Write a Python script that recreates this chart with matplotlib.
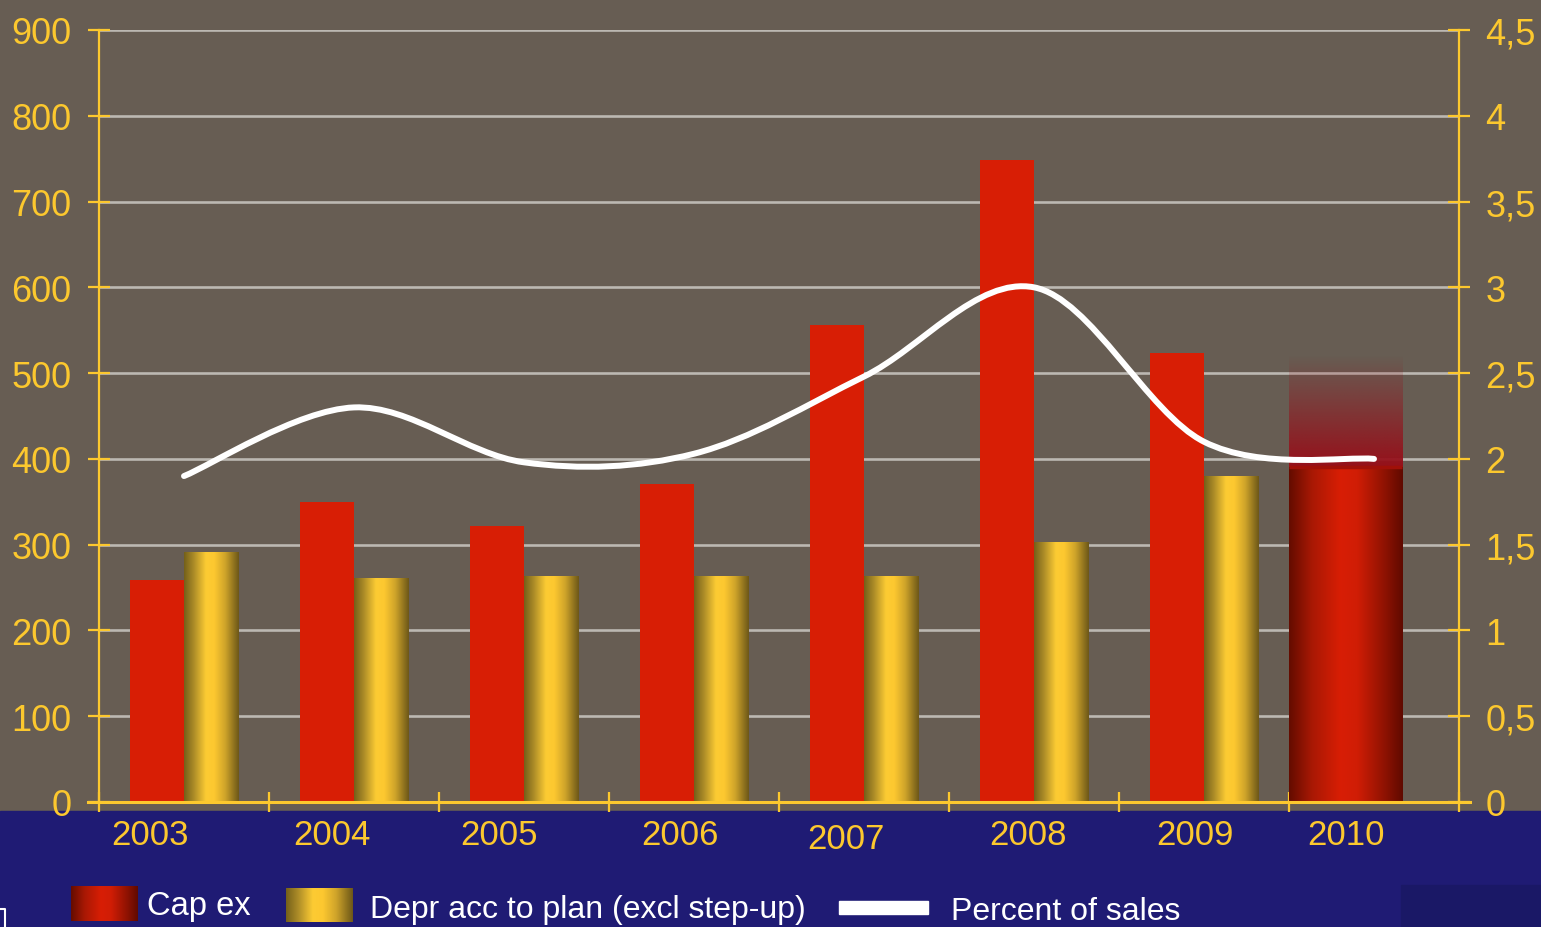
import numpy as np
import matplotlib
matplotlib.use('Agg')
import matplotlib.pyplot as plt
from matplotlib.path import Path
from matplotlib.patches import PathPatch, Rectangle
from matplotlib.colors import LinearSegmentedColormap, to_rgb
from matplotlib.lines import Line2D
import matplotlib.transforms as mtransforms

# ---------------- data ----------------
years = ['2003', '2004', '2005', '2006', '2007', '2008', '2009', '2010']
capex = [259, 350, 322, 371, 556, 748, 524, 390]
depr = [291, 260, 263, 263, 263, 303, 380]          # 2003-2009
pct_sales = [1.90, 2.30, 1.98, 2.03, 2.48, 3.00, 2.10, 2.00]
capex_2010_range_top = 520
left_ticks = [0, 100, 200, 300, 400, 500, 600, 700, 800, 900]
right_ticks = [0, 0.5, 1, 1.5, 2, 2.5, 3, 3.5, 4, 4.5]
right_tick_labels = ['0', '0,5', '1', '1,5', '2', '2,5', '3', '3,5', '4', '4,5']
legend_labels = ['Cap ex', 'Depr acc to plan (excl step-up)', 'Percent of sales']

# ---------------- style ----------------
GRAY = '#675d53'
NAVY = '#1f1b74'
NAVY_DARK = '#1a1866'
GOLD = '#fcc82e'
GRID = '#bcb8b2'
RED = '#d81e05'
plt.rcParams['font.family'] = ['Liberation Sans', 'DejaVu Sans']

gold_cmap = LinearSegmentedColormap.from_list('gold', [
    (0.0, '#74601a'), (0.18, '#ac8c28'), (0.40, '#fccb33'), (0.55, '#fdc830'),
    (0.75, '#cfa42a'), (1.0, '#6c5718')])
red_cmap = LinearSegmentedColormap.from_list('redg', [
    (0.0, '#640c00'), (0.2, '#a81804'), (0.45, '#d81e05'), (0.6, '#d01d05'),
    (0.85, '#8c1202'), (1.0, '#600a00')])

W, H = 1541, 928
fig = plt.figure(figsize=(W / 100, H / 100), dpi=100, facecolor=GRAY)


def fx(px):
    return px / W


def fy(py):
    return 1 - py / H


# navy band and decorations
fig.patches.append(Rectangle((0, 0), 1, fy(812), transform=fig.transFigure,
                             color=NAVY, zorder=-1))
fig.patches.append(Rectangle((fx(1401), 0), 1 - fx(1401), fy(886), transform=fig.transFigure,
                             color=NAVY_DARK, zorder=-0.9))
fig.lines.append(Line2D([fx(0), fx(5), fx(5)], [fy(910), fy(910), fy(928)],
                        transform=fig.transFigure, color='white', lw=1.5))

ax = fig.add_axes([fx(99), fy(803), fx(1459) - fx(99), fy(31) - fy(803)])
ax.set_facecolor(GRAY)
ax2 = ax.twinx()

n = len(years)
cat = np.arange(n)
bw = 0.32

# Cap ex bars (2003-2009) solid red
ax.bar(cat[:7] + 0.5 - bw / 2, capex[:7], width=bw, color=RED, zorder=2)

# Depreciation bars with gold gradient
grad = np.linspace(0, 1, 256).reshape(1, -1)
gbars = ax.bar(cat[:7] + 0.5 + bw / 2, depr, width=bw, color='none', zorder=2)
for b in gbars:
    x0, w, h = b.get_x(), b.get_width(), b.get_height()
    ax.imshow(grad, cmap=gold_cmap, extent=[x0, x0 + w, 0, h], aspect='auto',
              zorder=2, interpolation='bilinear')

# 2010 cap ex bar: gradient solid part + fading range above
b10 = ax.bar(cat[7], capex[7], width=2 * bw + 0.027, align='edge', color='none', zorder=2)[0]
x0, w, h = b10.get_x(), b10.get_width(), b10.get_height()
ax.imshow(grad, cmap=red_cmap, extent=[x0, x0 + w, 0, h], aspect='auto',
          zorder=2.1, interpolation='bilinear')
fade = ax.bar(cat[7], capex_2010_range_top - capex[7], bottom=capex[7], width=w,
              align='edge', color='none', zorder=2)[0]
fr = np.zeros((256, 1, 4))
fr[:, 0, :3] = to_rgb('#96101a')
fr[:, 0, 3] = np.linspace(1.0, 0.0, 256)
ax.imshow(fr, extent=[x0, x0 + w, fade.get_y(), fade.get_y() + fade.get_height()],
          origin='lower', aspect='auto', zorder=2, interpolation='bilinear')
ax.plot([x0, x0 + w], [capex[7], capex[7]], color='#a01008', lw=2.5, zorder=2.2,
        solid_capstyle='butt')

ax.set_xlim(0, n)
ax.set_ylim(0, 900)
ax2.set_ylim(0, 4.5)

# axes styling
ax.set_axisbelow(True)
ax.set_yticks(left_ticks)
ax.yaxis.grid(True, color=GRID, linewidth=1.9)
ax.tick_params(axis='y', which='major', direction='inout', length=16, width=1.6,
               colors=GOLD, labelsize=26, pad=12)
ax.set_xticks(np.arange(n + 1))
ax.tick_params(axis='x', which='major', direction='inout', length=15, width=1.6,
               color=GOLD, labelbottom=False)
for s in ['top', 'right', 'bottom']:
    ax.spines[s].set_visible(False)
ax.spines['left'].set_color(GOLD)
ax.spines['left'].set_linewidth(1.6)

ax2.set_yticks(right_ticks, right_tick_labels)
ax2.tick_params(axis='y', which='major', direction='inout', length=16, width=1.6,
                colors=GOLD, labelsize=26, pad=11)
for s in ['top', 'left', 'bottom']:
    ax2.spines[s].set_visible(False)
ax2.spines['right'].set_color(GOLD)
ax2.spines['right'].set_linewidth(1.6)

# bottom axis line with overhang
ovh = 11 / 1360
ax.add_line(Line2D([-ovh, 1 + ovh], [0, 0], transform=ax.transAxes, color=GOLD,
                   lw=2.2, clip_on=False, zorder=5))

# category labels
label_dx = [-34, -22, -25, -14, -18, -6, -9, -28]
label_dy = [0, 0, 0, 0, 3.5, 0, 0, 0]
for i, (yr, dx, dy) in enumerate(zip(years, label_dx, label_dy)):
    tr = ax.get_xaxis_transform() + mtransforms.ScaledTranslation(
        dx / 100, -(33 + dy) / 100, fig.dpi_scale_trans)
    ax.text(cat[i] + 0.5, 0, yr, transform=tr, ha='center', va='center',
            color=GOLD, fontsize=25, clip_on=False)

# smoothed percent-of-sales line (Bezier through the data points)
xs = cat + 0.5
ys = np.array(pct_sales)
verts = [(xs[0], ys[0])]
codes = [Path.MOVETO]
for i in range(n - 1):
    ip = i - 1 if i > 0 else i
    inn = i + 2 if i + 2 < n else i + 1
    c1 = (xs[i] + (xs[i + 1] - xs[ip]) / 6, ys[i] + (ys[i + 1] - ys[ip]) / 6)
    c2 = (xs[i + 1] - (xs[inn] - xs[i]) / 6, ys[i + 1] - (ys[inn] - ys[i]) / 6)
    verts += [c1, c2, (xs[i + 1], ys[i + 1])]
    codes += [Path.CURVE4] * 3
ax2.add_patch(PathPatch(Path(verts, codes), facecolor='none', edgecolor='white',
                        lw=4.3, capstyle='round', joinstyle='round', zorder=4))
ax2.set_xlim(0, n)

# legend (drawn manually)
lax1 = fig.add_axes([fx(71), fy(922), fx(138) - fx(71), fy(887) - fy(922)])
lax1.imshow(grad, cmap=red_cmap, aspect='auto', interpolation='bilinear')
lax1.axis('off')
lax2 = fig.add_axes([fx(286), fy(923), fx(353) - fx(286), fy(889) - fy(923)])
lax2.imshow(grad, cmap=gold_cmap, aspect='auto', interpolation='bilinear')
lax2.axis('off')
fig.patches.append(Rectangle((fx(839), fy(915)), fx(928) - fx(839), fy(902) - fy(915),
                             transform=fig.transFigure, color='white', zorder=2))
fig.text(fx(147), fy(915), legend_labels[0], color='white', fontsize=23.5, va='baseline')
fig.text(fx(370), fy(918), legend_labels[1], color='white', fontsize=23, va='baseline')
fig.text(fx(951), fy(920), legend_labels[2], color='white', fontsize=23, va='baseline')

fig.savefig('out.png', dpi=100, facecolor=GRAY)
